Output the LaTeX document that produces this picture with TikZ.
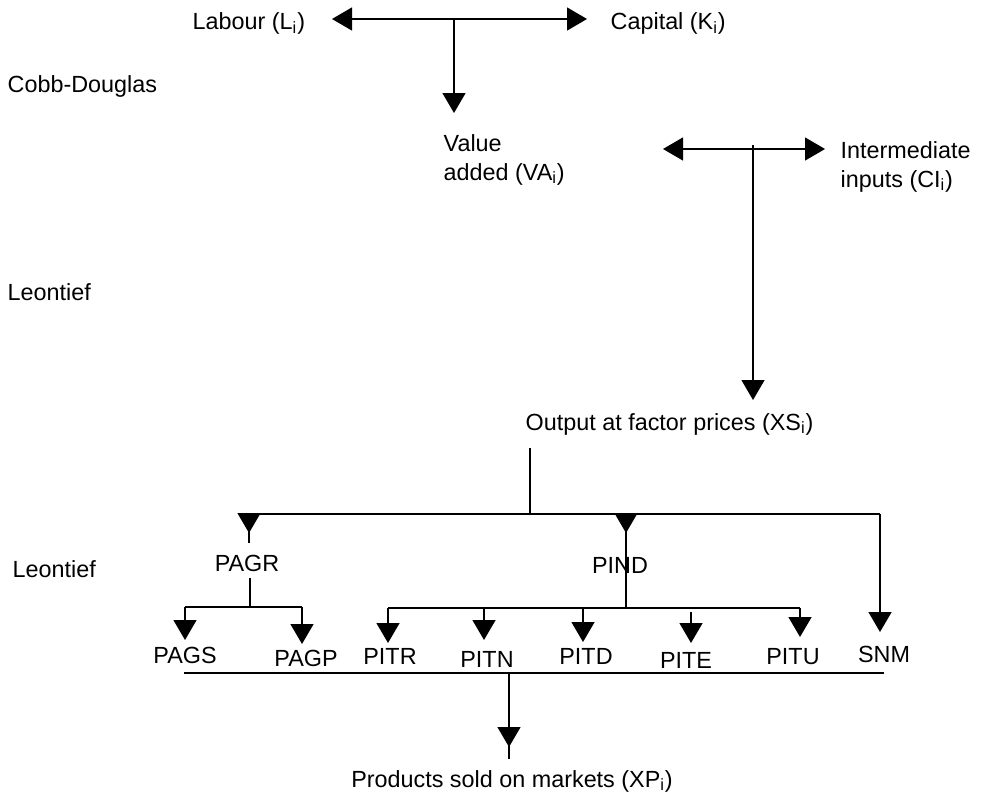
\documentclass[tikz,border=0pt]{standalone}
\usepackage{fontspec}
\setmainfont{Liberation Sans}
\usetikzlibrary{arrows.meta,decorations.markings}

\begin{document}
\begin{tikzpicture}[x=0.02cm,y=-0.02cm,->,>={Triangle[length=0.4cm,width=0.46cm]},
  line width=0.8pt,
  main node/.style={font=\fontsize{13.3}{16.5}\selectfont,inner sep=0pt,anchor=base},
  side node/.style={main node,anchor=base west,align=left},
  midtip/.style={-,postaction={decorate},decoration={markings,
    mark=at position #1 with {\arrow{>}}}}]

  \useasboundingbox (0,0) rectangle (982,794);

  % texts
  \node[side node] (Labour) at (192,30) {Labour (L\textsubscript{i})};
  \node[side node] (Capital) at (610,30) {Capital (K\textsubscript{i})};
  \node[side node] (CobbDouglas) at (7,92) {Cobb-Douglas};
  \node[side node] (VA) at (443,180) {Value\\added (VA\textsubscript{i})};
  \node[side node] (CI) at (840,187) {Intermediate\\inputs (CI\textsubscript{i})};
  \node[side node] (Leontief) at (7,300) {Leontief};
  \node[side node] (XS) at (525,430) {Output at factor prices (XS\textsubscript{i})};
  \node[side node] (LeontiefB) at (12,577) {Leontief};
  \node[main node] (PAGR) at (247,571) {PAGR};
  \node[main node] (PIND) at (620,573) {PIND};
  \node[main node] (PAGS) at (185,663) {PAGS};
  \node[main node] (PAGP) at (306,666) {PAGP};
  \node[main node] (PITR) at (390,664) {PITR};
  \node[main node] (PITN) at (487,667) {PITN};
  \node[main node] (PITD) at (586,664) {PITD};
  \node[main node] (PITE) at (686,668) {PITE};
  \node[main node] (PITU) at (793,664) {PITU};
  \node[main node] (SNM) at (884,662) {SNM};
  \node[main node] (XP) at (512,787) {Products sold on markets (XP\textsubscript{i})};

  % factors
  \coordinate (LKleft) at (332,19);
  \coordinate (LKright) at (587,19);
  \coordinate (LKjoin) at (454,19);
  \coordinate (VAtip) at (454,113);
  \draw[<->] (LKleft) -- (LKright);
  \draw (LKjoin) -- (VAtip);

  \coordinate (CIleft) at (663,149);
  \coordinate (CIright) at (825,149);
  \coordinate (CIjoin) at (753,145);
  \coordinate (XStip) at (753,400);
  \draw[<->] (CIleft) -- (CIright);
  \draw (CIjoin) -- (XStip);

  % output split
  \coordinate (XSfoot) at (530,448);
  \coordinate (XSjoin) at (530,514);
  \coordinate (PAGRjoin) at (249,514);
  \coordinate (PINDjoin) at (626,514);
  \coordinate (SNMjoin) at (880,514);
  \coordinate (PAGRstub) at (249,543);
  \coordinate (SNMtip) at (880,632);
  \draw[-] (XSfoot) -- (XSjoin);
  \draw[-] (PAGRjoin) -- (SNMjoin);
  \draw[midtip=0.38cm] (PAGRjoin) -- (PAGRstub);
  \draw (SNMjoin) -- (SNMtip);

  % agriculture
  \coordinate (PAGRfoot) at (250,578);
  \coordinate (PAGRbar) at (250,607);
  \coordinate (PAGStip) at (185,640);
  \coordinate (PAGPtip) at (302,644);
  \draw[-] (PAGRfoot) -- (PAGRbar);
  \draw[-] (PAGStip |- PAGRbar) -- (PAGPtip |- PAGRbar);
  \draw (PAGStip |- PAGRbar) -- (PAGStip);
  \draw (PAGPtip |- PAGRbar) -- (PAGPtip);

  % industry
  \coordinate (PINDbar) at (626,608);
  \coordinate (PITRtip) at (388,643);
  \coordinate (PITNtip) at (484,640);
  \coordinate (PITDtip) at (583,642);
  \coordinate (PITEtop) at (691,612);
  \coordinate (PITEtip) at (691,643);
  \coordinate (PITUtip) at (800,637);
  \draw[midtip=0.38cm] (PINDjoin) -- (PINDbar);
  \draw[-] (PITRtip |- PINDbar) -- (PITUtip |- PINDbar);
  \draw (PITRtip |- PINDbar) -- (PITRtip);
  \draw (PITNtip |- PINDbar) -- (PITNtip);
  \draw (PITDtip |- PINDbar) -- (PITDtip);
  \draw (PITEtop) -- (PITEtip);
  \draw (PITUtip |- PINDbar) -- (PITUtip);

  % markets
  \coordinate (XPleft) at (184,673);
  \coordinate (XPright) at (884,673);
  \coordinate (XPjoin) at (509,673);
  \coordinate (XPstub) at (509,759);
  \draw[-] (XPleft) -- (XPright);
  \draw[midtip=1.48cm] (XPjoin) -- (XPstub);
\end{tikzpicture}
\end{document}
